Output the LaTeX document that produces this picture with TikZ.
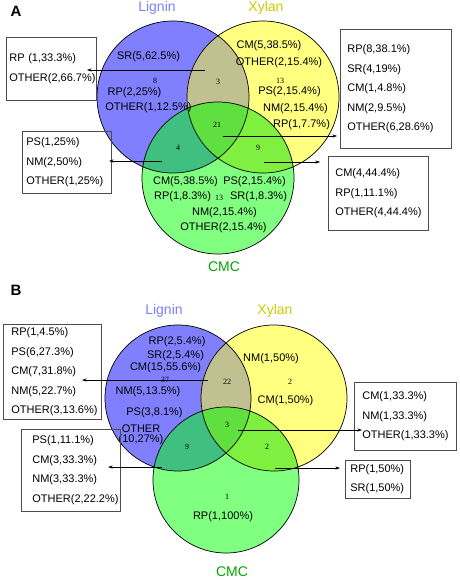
\documentclass[tikz,border=0pt]{standalone}
\usepackage{fontspec}
\setmainfont{Liberation Sans}
\newfontfamily\numfont{Liberation Serif}
\usetikzlibrary{arrows.meta}

\definecolor{ligninfill}{HTML}{8080FF}
\definecolor{xylanfill}{HTML}{FFFF80}
\definecolor{cmcfill}{HTML}{80FF80}
\definecolor{ligxylfill}{HTML}{C0C090}
\definecolor{ligcmcfill}{HTML}{40C080}
\definecolor{xylcmcfill}{HTML}{80F040}
\definecolor{allfill}{HTML}{60E040}
\definecolor{lignintext}{HTML}{7F7FFF}
\definecolor{xylantext}{HTML}{CCCC00}
\definecolor{cmctext}{HTML}{00A800}

% three overlapping sets: lignin centre, xylan centre, cmc centre, radius
\newcommand{\drawvenn}[4]{%
  \fill[ligninfill] #1 circle (#4);
  \fill[xylanfill] #2 circle (#4);
  \fill[cmcfill] #3 circle (#4);
  \begin{scope}\clip #1 circle (#4); \fill[ligxylfill] #2 circle (#4); \end{scope}
  \begin{scope}\clip #1 circle (#4); \fill[ligcmcfill] #3 circle (#4); \end{scope}
  \begin{scope}\clip #2 circle (#4); \fill[xylcmcfill] #3 circle (#4); \end{scope}
  \begin{scope}\clip #1 circle (#4); \clip #2 circle (#4); \fill[allfill] #3 circle (#4); \end{scope}
  \draw[line width=0.7pt] #1 circle (#4) #2 circle (#4) #3 circle (#4);
}

\begin{document}
\begin{tikzpicture}[x=1pt,y=-1pt,>={Stealth[length=4.5pt,width=3pt]},font=\fontsize{11}{13}\selectfont]
  \tikzstyle{box}=[draw=black!70,line width=0.7pt,anchor=north west,align=left,font=\fontsize{11}{19.5}\selectfont]
  \tikzstyle{lbl}=[inner sep=0pt,align=center]
  \tikzstyle{num}=[inner sep=0pt,font=\numfont\fontsize{8}{9}\selectfont]
  \tikzstyle{title}=[inner sep=0pt,font=\fontsize{14}{16}\selectfont]
  \tikzstyle{link}=[->,line width=0.6pt]
  \fill[white] (0,0) rectangle (459,580);
  \useasboundingbox (0,0) rectangle (459,580);

  % panel A
  \node[title,font=\bfseries\fontsize{15}{16}\selectfont] (panelA) at (16,11) {A};
  \drawvenn{(173,97)}{(263,97)}{(218,178)}{76pt}
  \node[title,text=lignintext] (ligninA) at (157,8) {Lignin};
  \node[title,text=xylantext] (xylanA) at (266,8) {Xylan};
  \node[title,text=cmctext] (cmcA) at (224,267) {CMC};

  \node[lbl] (a_l1) at (148.5,57) {SR(5,62.5\%)};
  \node[num] (a_l) at (155,81) {8};
  \node[lbl] (a_l2) at (134.5,93) {RP(2,25\%)};
  \node[lbl] (a_l3) at (148.5,108) {OTHER(1,12.5\%)};
  \node[num] (a_lx) at (218,82) {3};
  \node[lbl] (a_x1) at (269,46) {CM(5,38.5\%)};
  \node[lbl] (a_x2) at (279,63) {OTHER(2,15.4\%)};
  \node[num] (a_x) at (280,81) {13};
  \node[lbl] (a_x3) at (289.5,92) {PS(2,15.4\%)};
  \node[lbl] (a_x4) at (295.5,109) {NM(2,15.4\%)};
  \node[lbl] (a_x5) at (301.5,125) {RP(1,7.7\%)};
  \node[num] (a_all) at (217,125) {21};
  \node[num] (a_lc) at (178,148) {4};
  \node[num] (a_xc) at (258,148) {9};
  \node[lbl] (a_c1) at (185.5,182) {CM(5,38.5\%)};
  \node[lbl] (a_c2) at (254.5,182) {PS(2,15.4\%)};
  \node[lbl] (a_c3) at (182.5,197) {RP(1,8.3\%)};
  \node[num] (a_c) at (219,198) {13};
  \node[lbl] (a_c4) at (258.5,197) {SR(1,8.3\%)};
  \node[lbl] (a_c5) at (224.5,213) {NM(2,15.4\%)};
  \node[lbl] (a_c6) at (223.5,228) {OTHER(2,15.4\%)};

  \node[box,inner xsep=3pt,text width=84pt,minimum height=63pt] (boxLX) at (6,37) {RP (1,33.3\%)\\OTHER(2,66.7\%)};
  \node[box,inner xsep=7pt,text width=97pt,minimum height=119pt] (boxAll) at (340,29) {RP(8,38.1\%)\\SR(4,19\%)\\CM(1,4.8\%)\\NM(2,9.5\%)\\OTHER(6,28.6\%)};
  \node[box,inner xsep=7pt,text width=86pt,minimum height=74pt] (boxXC) at (328,156) {CM(4,44.4\%)\\RP(1,11.1\%)\\OTHER(4,44.4\%)};
  \node[box,inner xsep=4pt,text width=81pt,minimum height=62pt] (boxLC) at (22,131) {PS(1,25\%)\\NM(2,50\%)\\OTHER(1,25\%)};

  \coordinate (fromLX) at (205,70);  \coordinate (toLX) at (87,70);
  \coordinate (fromAll) at (223,136); \coordinate (toAll) at (337,136);
  \coordinate (fromXC) at (264,162); \coordinate (toXC) at (320,162);
  \coordinate (fromLC) at (162,161); \coordinate (toLC) at (109,161);
  \draw[link] (fromLX) -- (toLX);
  \draw[link] (fromAll) -- (toAll);
  \draw[link] (fromXC) -- (toXC);
  \draw[link] (fromLC) -- (toLC);

  % panel B
  \node[title,font=\bfseries\fontsize{15}{16}\selectfont] (panelB) at (16,290) {B};
  \drawvenn{(178,398)}{(274,398)}{(226,480)}{73pt}
  \node[title,text=lignintext] (ligninB) at (164,311) {Lignin};
  \node[title,text=xylantext] (xylanB) at (275,311) {Xylan};
  \node[title,text=cmctext] (cmcB) at (232,572) {CMC};

  \node[lbl] (b_l1) at (177,342) {RP(2,5.4\%)};
  \node[lbl] (b_l2) at (175.5,356) {SR(2,5.4\%)};
  \node[lbl] (b_l3) at (165.5,368) {CM(15,55.6\%)};
  \node[num] (b_l) at (165,380) {37};
  \node[lbl] (b_l4) at (148,392) {NM(5,13.5\%)};
  \node[lbl] (b_l5) at (154.5,413) {PS(3,8.1\%)};
  \node[lbl,font=\fontsize{11}{9.5}\selectfont] (b_l6) at (141,435) {OTHER\\(10,27\%)};
  \node[num] (b_lx) at (227,382) {22};
  \node[lbl] (b_x1) at (271,359) {NM(1,50\%)};
  \node[num] (b_x) at (290,382) {2};
  \node[lbl] (b_x2) at (285.5,401) {CM(1,50\%)};
  \node[num] (b_all) at (227,425) {3};
  \node[num] (b_lc) at (187,447) {9};
  \node[num] (b_xc) at (267,447) {2};
  \node[num] (b_c) at (227,497) {1};
  \node[lbl] (b_c1) at (223,517) {RP(1,100\%)};

  \node[box,inner xsep=8pt,text width=82pt,minimum height=94pt] (boxLX2) at (3,324) {RP(1,4.5\%)\\PS(6,27.3\%)\\CM(7,31.8\%)\\NM(5,22.7\%)\\OTHER(3,13.6\%)};
  \node[box,inner xsep=8pt,text width=86pt,minimum height=68pt] (boxAll2) at (354,382) {CM(1,33.3\%)\\NM(1,33.3\%)\\OTHER(1,33.3\%)};
  \node[box,inner xsep=11pt,text width=77pt,minimum height=82pt] (boxLC2) at (21,429) {PS(1,11.1\%)\\CM(3,33.3\%)\\NM(3,33.3\%)\\OTHER(2,22.2\%)};
  \node[box,inner xsep=5pt,text width=55pt,minimum height=38pt] (boxXC2) at (345,460) {RP(1,50\%)\\SR(1,50\%)};

  \coordinate (fromLX2) at (208,380);  \coordinate (toLX2) at (82,380);
  \coordinate (fromAll2) at (238,430); \coordinate (toAll2) at (362,430);
  \coordinate (fromLC2) at (162,467);  \coordinate (toLC2) at (108,467);
  \coordinate (fromXC2) at (275,468);  \coordinate (toXC2) at (340,468);
  \draw[link] (fromLX2) -- (toLX2);
  \draw[link] (fromAll2) -- (toAll2);
  \draw[link] (fromLC2) -- (toLC2);
  \draw[link] (fromXC2) -- (toXC2);
\end{tikzpicture}
\end{document}
